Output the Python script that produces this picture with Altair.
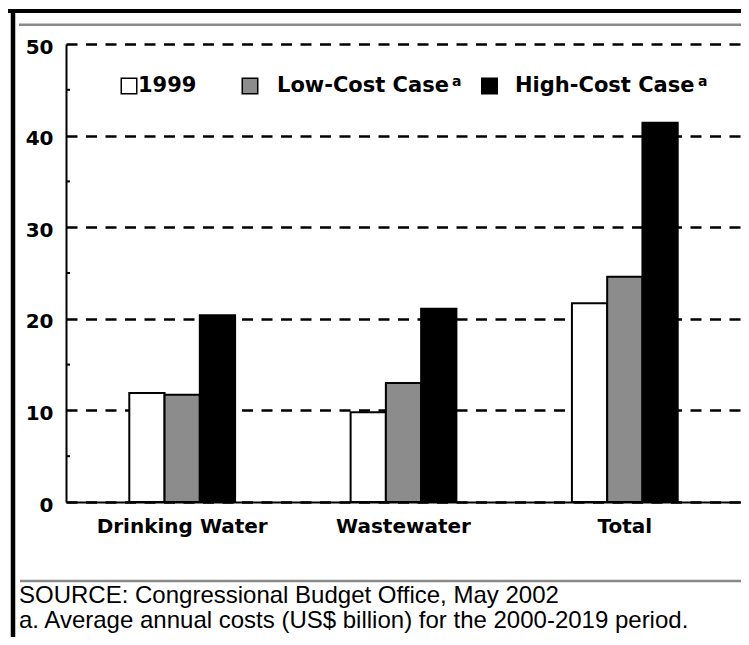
import altair as alt
import pandas as pd

# ---- data ----
categories = ["Drinking Water", "Wastewater", "Total"]
series = ["1999", "Low-Cost Case", "High-Cost Case"]
values_1999 = [11.9, 9.8, 21.7]
values_low = [11.7, 13.0, 24.6]
values_high = [20.4, 21.1, 41.4]
y_ticks = [0, 10, 20, 30, 40, 50]
minor_ticks = [5, 15, 25, 35, 45]
series_colors = ["white", "#8c8c8c", "black"]
source_lines = [
    "SOURCE: Congressional Budget Office, May 2002",
    "a. Average annual costs (US$ billion) for the 2000-2019 period.",
]

rows = []
for s, vals in zip(series, [values_1999, values_low, values_high]):
    for c, v in zip(categories, vals):
        rows.append({"category": c, "series": s, "value": v})
df = pd.DataFrame(rows)

BOLD = "DejaVu Sans"
one = alt.Data(values=[{"k": 1}])

y_axis = alt.Axis(
    title=None, values=y_ticks, grid=True, gridColor="black",
    gridDash=[11, 8.5], gridWidth=2.5, ticks=False,
    domainColor="black", domainWidth=2, labelFont=BOLD,
    labelFontWeight="bold", labelFontSize=20, labelColor="black",
    labelPadding=13, labelOffset=3,
)

bars = alt.Chart(df).mark_bar(stroke="black", strokeWidth=2).encode(
    x=alt.X(
        "category:N",
        sort=categories,
        scale=alt.Scale(paddingInner=0.522, paddingOuter=0.286),
        axis=alt.Axis(
            title=None, labelAngle=0, labelFont=BOLD, labelFontWeight="bold",
            labelFontSize=20, labelColor="black", ticks=False,
            domainColor="black", domainWidth=2, labelPadding=14,
        ),
    ),
    xOffset=alt.XOffset("series:N", sort=series,
                        scale=alt.Scale(paddingInner=0, paddingOuter=0)),
    y=alt.Y("value:Q", scale=alt.Scale(domain=[0, 50], nice=False), axis=y_axis),
    fill=alt.Fill("series:N", sort=series,
                  scale=alt.Scale(domain=series, range=series_colors), legend=None),
)

minor = alt.Chart(pd.DataFrame({"value": minor_ticks})).mark_rule(
    color="black", strokeWidth=2
).encode(
    y=alt.Y("value:Q", axis=y_axis),
    x=alt.value(0),
    x2=alt.value(4),
)

def rule(x, x2, y, y2, color, w):
    return alt.Chart(one).mark_rule(color=color, strokeWidth=w).encode(
        x=alt.value(x), x2=alt.value(x2), y=alt.value(y), y2=alt.value(y2)
    )

frame = [
    rule(-58, 675, -33, -33, "black", 4),
    rule(-53, -53, -35, 600, "black", 4.5),
    rule(-47, 675, -19.3, -19.3, "#8a8a8a", 2.5),
    rule(-46, 675, 537, 537, "#8a8a8a", 2.5),
]

# legend
leg_sq_x = [63, 184, 423.5]
leg_lab_x = [72, 211, 449]
legend_layers = []
for i in range(3):
    legend_layers.append(
        alt.Chart(one).mark_square(size=240, stroke="black", strokeWidth=1.5,
                                   opacity=1).encode(
            x=alt.value(leg_sq_x[i]), y=alt.value(42),
            fill=alt.value(series_colors[i]),
        )
    )
    legend_layers.append(
        alt.Chart(one).mark_text(font=BOLD, fontWeight="bold", fontSize=21,
                                 align="left", baseline="middle", color="black").encode(
            x=alt.value(leg_lab_x[i]), y=alt.value(42), text=alt.value(series[i])
        )
    )
for sx in [386, 632]:
    legend_layers.append(
        alt.Chart(one).mark_text(font=BOLD, fontWeight="bold", fontSize=14,
                                 align="left", baseline="middle", color="black").encode(
            x=alt.value(sx), y=alt.value(38), text=alt.value("a")
        )
    )

source_layers = []
for line, yy in zip(source_lines, [559, 584]):
    source_layers.append(
        alt.Chart(one).mark_text(
            font="Liberation Sans", fontSize=24,
            align="left", baseline="alphabetic", color="black",
        ).encode(x=alt.value(-47), y=alt.value(yy), text=alt.value(line))
    )

chart = alt.layer(bars, minor, *frame, *legend_layers, *source_layers).properties(
    width=675, height=458,
    autosize=alt.AutoSizeParams(type="none"),
    padding={"left": 58, "top": 36, "right": 0, "bottom": 135},
    background="white",
).configure_view(stroke=None)

chart.save("out.html", embed_options={"renderer": "svg", "actions": False})
